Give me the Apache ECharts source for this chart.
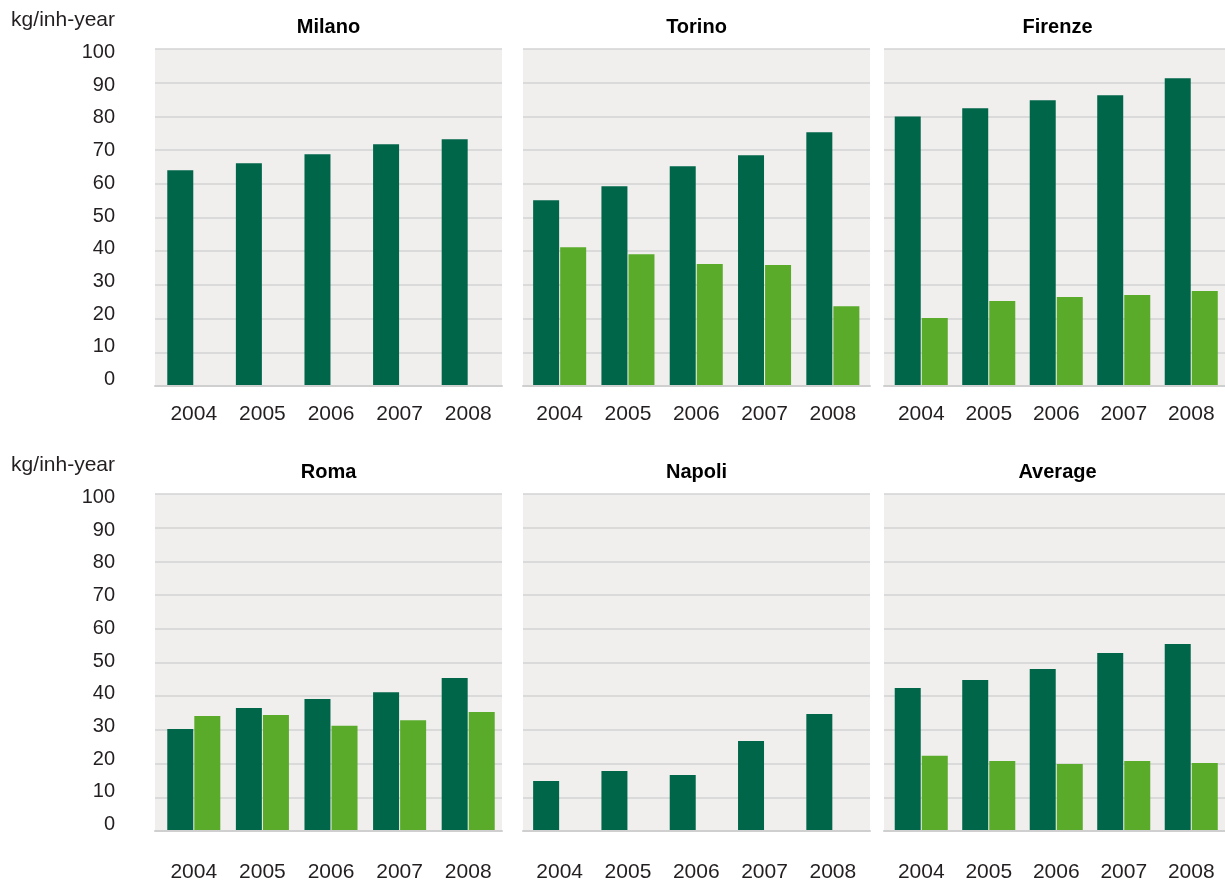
<!DOCTYPE html>
<html>
<head>
<meta charset="utf-8">
<script src="https://cdn.jsdelivr.net/npm/echarts@6/dist/echarts.min.js"></script>
<style>
html,body{margin:0;padding:0;background:#fff;}
#c{width:1225px;height:883px;}
</style>
</head>
<body>
<div id="c"></div>
<script>
const years = ['2004', '2005', '2006', '2007', '2008'];
const yTicks = [0, 10, 20, 30, 40, 50, 60, 70, 80, 90, 100];
const unitLabel = 'kg/inh-year';
const cities = ['Milano', 'Torino', 'Firenze', 'Roma', 'Napoli', 'Average'];

const milanoDark  = [64.0, 66.1, 68.8, 71.7, 73.2];
const milanoLight = [null, null, null, null, null];
const torinoDark  = [55.1, 59.3, 65.2, 68.5, 75.3];
const torinoLight = [41.2, 39.1, 36.2, 35.9, 23.7];
const firenzeDark = [80.0, 82.4, 84.8, 86.3, 91.3];
const firenzeLight= [20.2, 25.2, 26.4, 27.0, 28.2];
const romaDark    = [30.3, 36.5, 39.2, 41.2, 45.4];
const romaLight   = [34.1, 34.4, 31.2, 32.9, 35.3];
const napoliDark  = [14.8, 17.8, 16.6, 26.7, 34.7];
const napoliLight = [null, null, null, null, null];
const averageDark = [42.4, 44.8, 48.1, 52.8, 55.5];
const averageLight= [22.3, 20.8, 19.9, 20.8, 20.2];

const darkSeries  = [milanoDark, torinoDark, firenzeDark, romaDark, napoliDark, averageDark];
const lightSeries = [milanoLight, torinoLight, firenzeLight, romaLight, napoliLight, averageLight];

const DARK = '#00664a';
const LIGHT = '#5aab2a';
const FONT = "'Liberation Sans', Arial, Helvetica, sans-serif";
const TEXT = '#231f20';

// panel backgrounds
const panelLeft = [155, 523, 884];
const panelWidth = 347;
// plotting band of the bars inside each panel
const plotLeft = [159.5, 525.5, 887.5];
const plotWidth = [343, 341.5, 341.5];
const panelTop = [49, 494];
const panelHeight = 337;

// small per-tick vertical nudge of y labels (text in the original sits slightly off its gridline)
const rich = {};
yTicks.forEach(v => {
  const d = -6.5 + 0.1 * v; // px, negative = up
  rich['t' + v] = {
    fontSize: 20, fontFamily: FONT, color: TEXT,
    padding: d < 0 ? [0, 0, -2 * d, 0] : [2 * d, 0, 0, 0]
  };
});

const grids = [], xAxes = [], yAxes = [], series = [], titles = [];
for (let i = 0; i < 6; i++) {
  const row = Math.floor(i / 3), col = i % 3;
  // background grid with gridlines and axis line
  grids.push({
    left: panelLeft[col], top: panelTop[row], width: panelWidth, height: panelHeight,
    show: true, backgroundColor: '#f0efed', borderWidth: 0
  });
  xAxes.push({
    type: 'category', gridIndex: i, data: years,
    axisLine: { show: true, lineStyle: { color: '#cfcfcf', width: 2 } },
    axisTick: { show: false }, axisLabel: { show: false }, z: 3
  });
  yAxes.push({
    type: 'value', gridIndex: i, min: 0, max: 100, interval: 10,
    axisLine: { show: false }, axisTick: { show: false },
    splitLine: { show: true, lineStyle: { color: '#d3d3d3', width: 1.5 } },
    axisLabel: {
      show: col === 0, margin: 40, align: 'right',
      formatter: v => '{t' + v + '|' + v + '}', rich: rich
    }
  });
}
for (let i = 0; i < 6; i++) {
  const row = Math.floor(i / 3), col = i % 3;
  const gi = 6 + i;
  grids.push({
    left: plotLeft[col], top: panelTop[row], width: plotWidth[col], height: panelHeight,
    show: false
  });
  xAxes.push({
    type: 'category', gridIndex: gi, data: years,
    axisLine: { show: false }, axisTick: { show: false },
    axisLabel: { color: TEXT, fontSize: 21, fontFamily: FONT, margin: row === 0 ? 18 : 31 }
  });
  yAxes.push({
    type: 'value', gridIndex: gi, min: 0, max: 100, interval: 10,
    axisLine: { show: false }, axisTick: { show: false }, axisLabel: { show: false },
    splitLine: { show: false }
  });
  series.push({
    type: 'bar', xAxisIndex: gi, yAxisIndex: gi, data: darkSeries[i],
    barWidth: 26, barGap: '4%', itemStyle: { color: DARK }, silent: true
  });
  series.push({
    type: 'bar', xAxisIndex: gi, yAxisIndex: gi, data: lightSeries[i],
    barWidth: 26, barGap: '4%', itemStyle: { color: LIGHT }, silent: true
  });
  titles.push({
    text: cities[i], left: panelLeft[col] + panelWidth / 2, top: panelTop[row] - 32,
    textAlign: 'center', padding: 0,
    textStyle: { fontFamily: FONT, fontSize: 20, fontWeight: 'bold', color: '#000' }
  });
}
for (let r = 0; r < 2; r++) {
  titles.push({
    text: unitLabel, left: 115, top: panelTop[r] - 39, textAlign: 'right', padding: 0,
    textStyle: { fontFamily: FONT, fontSize: 21, fontWeight: 'normal', color: TEXT }
  });
}

const chart = echarts.init(document.getElementById('c'), null, { renderer: 'canvas' });
chart.setOption({
  animation: false,
  backgroundColor: '#fff',
  title: titles,
  grid: grids,
  xAxis: xAxes,
  yAxis: yAxes,
  series: series
});
</script>
</body>
</html>
